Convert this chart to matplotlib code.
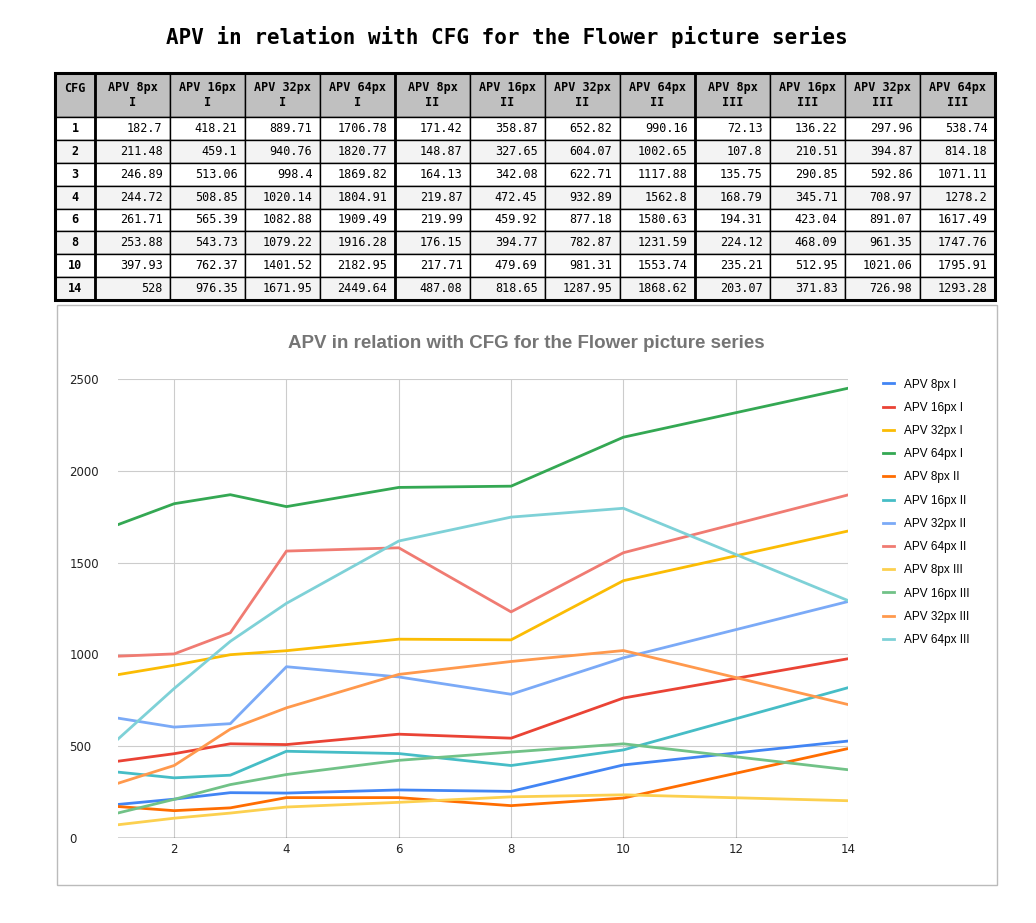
import matplotlib.pyplot as plt
from matplotlib.patches import Rectangle

cfg = [1, 2, 3, 4, 6, 8, 10, 14]
series_names = ["APV 8px I", "APV 16px I", "APV 32px I", "APV 64px I",
                "APV 8px II", "APV 16px II", "APV 32px II", "APV 64px II",
                "APV 8px III", "APV 16px III", "APV 32px III", "APV 64px III"]
header_labels = ["APV 8px\nI", "APV 16px\nI", "APV 32px\nI", "APV 64px\nI",
                 "APV 8px\nII", "APV 16px\nII", "APV 32px\nII", "APV 64px\nII",
                 "APV 8px\nIII", "APV 16px\nIII", "APV 32px\nIII", "APV 64px\nIII"]

apv8_1 = [182.7, 211.48, 246.89, 244.72, 261.71, 253.88, 397.93, 528]
apv16_1 = [418.21, 459.1, 513.06, 508.85, 565.39, 543.73, 762.37, 976.35]
apv32_1 = [889.71, 940.76, 998.4, 1020.14, 1082.88, 1079.22, 1401.52, 1671.95]
apv64_1 = [1706.78, 1820.77, 1869.82, 1804.91, 1909.49, 1916.28, 2182.95, 2449.64]
apv8_2 = [171.42, 148.87, 164.13, 219.87, 219.99, 176.15, 217.71, 487.08]
apv16_2 = [358.87, 327.65, 342.08, 472.45, 459.92, 394.77, 479.69, 818.65]
apv32_2 = [652.82, 604.07, 622.71, 932.89, 877.18, 782.87, 981.31, 1287.95]
apv64_2 = [990.16, 1002.65, 1117.88, 1562.8, 1580.63, 1231.59, 1553.74, 1868.62]
apv8_3 = [72.13, 107.8, 135.75, 168.79, 194.31, 224.12, 235.21, 203.07]
apv16_3 = [136.22, 210.51, 290.85, 345.71, 423.04, 468.09, 512.95, 371.83]
apv32_3 = [297.96, 394.87, 592.86, 708.97, 891.07, 961.35, 1021.06, 726.98]
apv64_3 = [538.74, 814.18, 1071.11, 1278.2, 1617.49, 1747.76, 1795.91, 1293.28]
series = [apv8_1, apv16_1, apv32_1, apv64_1, apv8_2, apv16_2, apv32_2, apv64_2,
          apv8_3, apv16_3, apv32_3, apv64_3]
colors = ["#4285F4", "#EA4335", "#FBBC04", "#34A853", "#FF6D01", "#46BDC6",
          "#7BAAF7", "#F07B72", "#FCD04F", "#71C287", "#FF994D", "#7ED1D7"]

W, H = 1036, 923
fig = plt.figure(figsize=(W / 100, H / 100), dpi=100)

fig.text(507 / W, 1 - 37 / H, "APV in relation with CFG for the Flower picture series",
         ha="center", va="center", family="DejaVu Sans Mono", weight="bold", fontsize=15)

# table
tab_ax = fig.add_axes([55 / W, 1 - 300 / H, 940 / W, 227 / H])
tab_ax.axis("off")
cells = [[str(c)] + [f"{s[i]:g}" for s in series] for i, c in enumerate(cfg)]
col_w = [40 / 940] + [75 / 940] * 12
tbl = tab_ax.table(cellText=cells, colLabels=["CFG"] + header_labels,
                   colWidths=col_w, bbox=[0, 0, 1, 1], cellLoc="right")
tbl.auto_set_font_size(False)
hdr_h = 44 / 227
row_h = (1 - hdr_h) / len(cfg)
for (r, c), cell in tbl.get_celld().items():
    cell.set_linewidth(1.0)
    cell.set_edgecolor("black")
    cell.get_text().set_fontfamily("DejaVu Sans Mono")
    cell.get_text().set_fontsize(8.5)
    if r == 0:
        cell.set_height(hdr_h)
        cell.set_facecolor("#c0c0c0")
        cell.get_text().set_weight("bold")
        cell.get_text().set_ha("center")
        cell._loc = "center"
        if c == 0:
            cell.get_text().set_va("bottom")
    else:
        cell.set_height(row_h)
        cell.set_facecolor("#f3f3f3" if r % 2 == 0 else "white")
        if c == 0:
            cell.get_text().set_weight("bold")
            cell._loc = "center"
            cell.get_text().set_ha("center")
tab_ax.add_patch(Rectangle((0, 0), 1, 1, fill=False, lw=2.2, transform=tab_ax.transAxes, clip_on=False))
for x in [40, 340, 640]:
    tab_ax.axvline(x / 940, color="black", lw=2.0)

# chart frame
fig.patches.append(Rectangle((57 / W, 1 - 885 / H), 940 / W, 580 / H, fill=False,
                             edgecolor="#bbbbbb", lw=1, transform=fig.transFigure))
fig.text(526 / W, 1 - 343 / H, "APV in relation with CFG for the Flower picture series",
         ha="center", va="center", color="#757575", weight="bold", fontsize=13.5,
         family="Liberation Sans")

ax = fig.add_axes([118 / W, 1 - 838 / H, 730 / W, 459 / H])
for name, vals, col in zip(series_names, series, colors):
    ax.plot(cfg, vals, color=col, lw=2, label=name)
ax.set_xlim(1, 14)
ax.set_ylim(0, 2500)
ax.set_xticks(range(2, 15, 2))
ax.set_yticks(range(0, 2501, 500))
ax.grid(color="#cccccc", lw=0.8)
for s in ax.spines.values():
    s.set_visible(False)
ax.axhline(0, color="#333333", lw=1)
ax.tick_params(length=0, labelsize=8.5, colors="#222222")
for lbl in ax.get_yticklabels():
    lbl.set_horizontalalignment("left")
    lbl.set_x(-0.06)
fig.legend(loc="upper left", bbox_to_anchor=(872 / W, 1 - 368 / H), frameon=False,
           fontsize=8.5, handlelength=1.0, labelspacing=0.95, prop={"family": "Liberation Sans", "size": 8.5})

fig.savefig("out.png", dpi=100, facecolor="white")
